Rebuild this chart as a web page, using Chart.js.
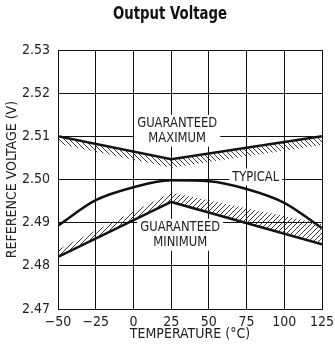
<!DOCTYPE html>
<html>
<head>
<meta charset="utf-8">
<script src="https://cdn.jsdelivr.net/npm/chart.js@4/dist/chart.umd.min.js"></script>
<style>
  html, body { margin: 0; padding: 0; background: #fff; }
  #wrap { width: 335px; height: 352px; }
</style>
</head>
<body>
<div id="wrap"><canvas id="chart" width="335" height="352"></canvas></div>
<script>
const FONT = '"Liberation Sans Narrow", "DejaVu Sans Condensed", Arial, sans-serif';
const INK = '#111';

// data
const temps = [-50, -25, 0, 25, 50, 75, 100, 125];
const typical = [2.4893, 2.4952, 2.4982, 2.4998, 2.4996, 2.4978, 2.4946, 2.4887];

const limitTemps = [-50, 25, 125];
const guaranteedMax = [2.5100, 2.5047, 2.5100];
const maxHatchEdge = [2.5083, 2.5027, 2.5080];
const guaranteedMin = [2.4821, 2.4948, 2.4850];
const minHatchEdge = [2.4838, 2.4970, 2.4897];

const xTicks = [-50, -25, 0, 25, 50, 75, 100, 125];
const yTicks = [2.47, 2.48, 2.49, 2.50, 2.51, 2.52, 2.53];

const curveLabels = [
  { lines: ['GUARANTEED', 'MAXIMUM'], x: 29, y: 2.5113 },
  { lines: ['TYPICAL'], x: 81, y: 2.5006 },
  { lines: ['GUARANTEED', 'MINIMUM'], x: 31, y: 2.4872 },
];

const pts = (xs, ys) => xs.map((x, i) => ({ x, y: ys[i] }));

function hatch(dir) {
  const s = 5;
  const c = document.createElement('canvas');
  c.width = s; c.height = s;
  const g = c.getContext('2d');
  g.strokeStyle = '#222';
  g.lineWidth = 0.9;
  g.beginPath();
  if (dir === 'back') {
    g.moveTo(0, 0); g.lineTo(s, s);
    g.moveTo(-1, s - 1); g.lineTo(1, s + 1);
    g.moveTo(s - 1, -1); g.lineTo(s + 1, 1);
  } else {
    g.moveTo(0, s); g.lineTo(s, 0);
    g.moveTo(-1, 1); g.lineTo(1, -1);
    g.moveTo(s - 1, s + 1); g.lineTo(s + 1, s - 1);
  }
  g.stroke();
  return g.createPattern(c, 'repeat');
}

// draw text squeezed horizontally so that `ref` measures `target` px
function squeezed(ctx, text, cx, cy, k) {
  ctx.save();
  ctx.translate(cx, cy);
  ctx.scale(k, 1);
  ctx.fillText(text, 0, 0);
  ctx.restore();
}

const labelPlugin = {
  id: 'curveLabels',
  beforeDatasetsDraw(chart) {
    const { ctx, scales: { x, y } } = chart;
    ctx.save();
    ctx.font = '14px ' + FONT;
    ctx.textAlign = 'center';
    ctx.textBaseline = 'middle';
    const k = Math.min(1, 80 / ctx.measureText('GUARANTEED').width);
    const lh = 15;
    curveLabels.forEach(l => {
      const cx = x.getPixelForValue(l.x);
      const cy = y.getPixelForValue(l.y);
      const w = Math.max(...l.lines.map(t => ctx.measureText(t).width)) * k + 6;
      const h = l.lines.length * lh + 2;
      ctx.fillStyle = '#fff';
      ctx.fillRect(cx - w / 2, cy - h / 2, w, h);
      ctx.fillStyle = '#222';
      l.lines.forEach((t, i) => {
        squeezed(ctx, t, cx, cy + (i - (l.lines.length - 1) / 2) * lh, k);
      });
    });
    ctx.restore();
  },
  afterDraw(chart) {
    const { ctx } = chart;
    ctx.save();
    ctx.font = 'bold 18px ' + FONT;
    ctx.fillStyle = INK;
    ctx.textAlign = 'center';
    ctx.textBaseline = 'middle';
    const k = Math.min(1, 114 / ctx.measureText('Output Voltage').width);
    squeezed(ctx, 'Output Voltage', 170, 14, k);
    ctx.restore();
  }
};

new Chart(document.getElementById('chart'), {
  type: 'line',
  data: {
    datasets: [
      {
        data: pts(limitTemps, maxHatchEdge),
        borderWidth: 0,
        pointRadius: 0,
        backgroundColor: hatch('back'),
        fill: '+1',
      },
      {
        data: pts(limitTemps, guaranteedMax),
        borderColor: INK,
        borderWidth: 2.5,
        pointRadius: 0,
        fill: false,
      },
      {
        data: pts(limitTemps, minHatchEdge),
        borderWidth: 0,
        pointRadius: 0,
        backgroundColor: hatch('fwd'),
        fill: '+1',
      },
      {
        data: pts(limitTemps, guaranteedMin),
        borderColor: INK,
        borderWidth: 2.5,
        pointRadius: 0,
        fill: false,
      },
      {
        data: pts(temps, typical),
        borderColor: INK,
        borderWidth: 2.5,
        pointRadius: 0,
        cubicInterpolationMode: 'monotone',
        fill: false,
      },
    ],
  },
  options: {
    responsive: false,
    animation: false,
    events: [],
    layout: { padding: { top: 50, right: 13, left: 0, bottom: 0 } },
    plugins: {
      legend: { display: false },
      tooltip: { enabled: false },
      title: { display: false },
    },
    scales: {
      x: {
        type: 'linear',
        min: -50,
        max: 125,
        afterFit: s => { s.height = 43; s.paddingLeft = 0; s.paddingRight = 0; },
        afterBuildTicks: s => { s.ticks = xTicks.map(v => ({ value: v })); },
        grid: { color: INK, lineWidth: 1, drawTicks: false },
        border: { color: INK, width: 1 },
        ticks: {
          color: '#222',
          font: { family: FONT, size: 14 },
          padding: 5,
          maxRotation: 0,
          callback: v => (v < 0 ? '\u2212' + Math.abs(v) : String(v)),
        },
        title: {
          display: true,
          text: 'TEMPERATURE (\u00B0C)',
          color: '#222',
          font: { family: FONT, size: 14 },
          padding: { top: 0, bottom: 9 },
        },
      },
      y: {
        type: 'linear',
        min: 2.47,
        max: 2.53,
        afterFit: s => { s.width = 58; s.paddingTop = 0; s.paddingBottom = 0; },
        afterBuildTicks: s => { s.ticks = yTicks.map(v => ({ value: v })); },
        grid: { color: INK, lineWidth: 1, drawTicks: false },
        border: { color: INK, width: 1 },
        ticks: {
          color: '#222',
          font: { family: FONT, size: 14 },
          padding: 8,
          callback: v => v.toFixed(2),
        },
        title: {
          display: true,
          text: 'REFERENCE VOLTAGE (V)',
          color: '#222',
          font: { family: FONT, size: 14 },
          padding: { top: 4, bottom: 0 },
        },
      },
    },
  },
  plugins: [labelPlugin],
});
</script>
</body>
</html>
